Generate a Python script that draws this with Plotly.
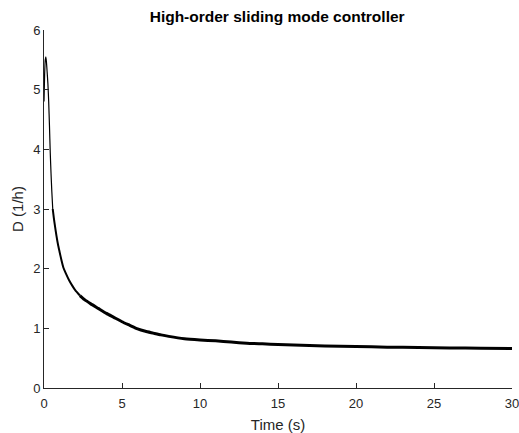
import plotly.graph_objects as go

# values
time_s = [0, 0.04, 0.08, 0.12, 0.16, 0.2, 0.25, 0.3, 0.35, 0.4, 0.45, 0.5, 0.56,
          0.63, 0.7, 0.8, 0.9, 1.0, 1.12, 1.24, 1.4, 1.6, 1.8, 2.0, 2.3, 2.6,
          3.0, 3.5, 4.0, 4.5, 5.0, 5.5, 6.0, 6.5, 7.0, 7.5, 8.0, 9.0, 10, 11,
          12, 13, 14, 15, 16, 18, 20, 22, 24, 26, 28, 30]
dilution = [4.8, 5.25, 5.5, 5.55, 5.45, 5.3, 5.1, 4.8, 4.4, 3.95, 3.6, 3.3,
            3.0, 2.85, 2.72, 2.55, 2.4, 2.28, 2.14, 2.02, 1.92, 1.81, 1.72,
            1.64, 1.55, 1.48, 1.41, 1.33, 1.25, 1.18, 1.11, 1.05, 0.99, 0.95,
            0.92, 0.89, 0.865, 0.825, 0.805, 0.79, 0.77, 0.75, 0.74, 0.73,
            0.72, 0.705, 0.695, 0.685, 0.678, 0.672, 0.667, 0.663]

x_ticks = [0, 5, 10, 15, 20, 25, 30]
y_ticks = [0, 1, 2, 3, 4, 5, 6]

# the trace gets thicker (chattering) as it settles, so draw it in three pieces
pieces = [(0, 12, 1.2), (12, 24, 2.0), (24, len(time_s) - 1, 3.0)]

fig = go.Figure()
for start, end, w in pieces:
    fig.add_trace(go.Scatter(x=time_s[start:end + 1], y=dilution[start:end + 1],
                             mode="lines", line=dict(color="black", width=w,
                                                     shape="spline", smoothing=0.5),
                             showlegend=False))

axis_style = dict(showline=True, linecolor="#262626", linewidth=1, ticks="inside",
                  ticklen=5, tickcolor="#262626", showgrid=False, zeroline=False,
                  tickfont=dict(size=13, color="#262626"), mirror=False,
                  automargin=False, ticklabeloverflow="allow")

fig.update_layout(
    width=519, height=433,
    margin=dict(l=44, r=7, t=30, b=45),
    paper_bgcolor="white", plot_bgcolor="white",
    font=dict(family="Liberation Sans, Arial, sans-serif", color="#262626"),
    title=dict(text="<b>High-order sliding mode controller</b>", x=0.534, xanchor="center",
               y=0.975, yanchor="top", font=dict(size=15.5, color="black")),
    xaxis=dict(range=[0, 30], tickvals=x_ticks, ticklabelstandoff=3,
               title=dict(text="Time (s)", font=dict(size=15), standoff=9), **axis_style),
    yaxis=dict(range=[0, 6], tickvals=y_ticks,
               title=dict(text="D (1/h)", font=dict(size=15), standoff=5), **axis_style),
)

fig.write_html("out.html", config={"displayModeBar": False},
               post_script="document.body.style.margin='0';")
